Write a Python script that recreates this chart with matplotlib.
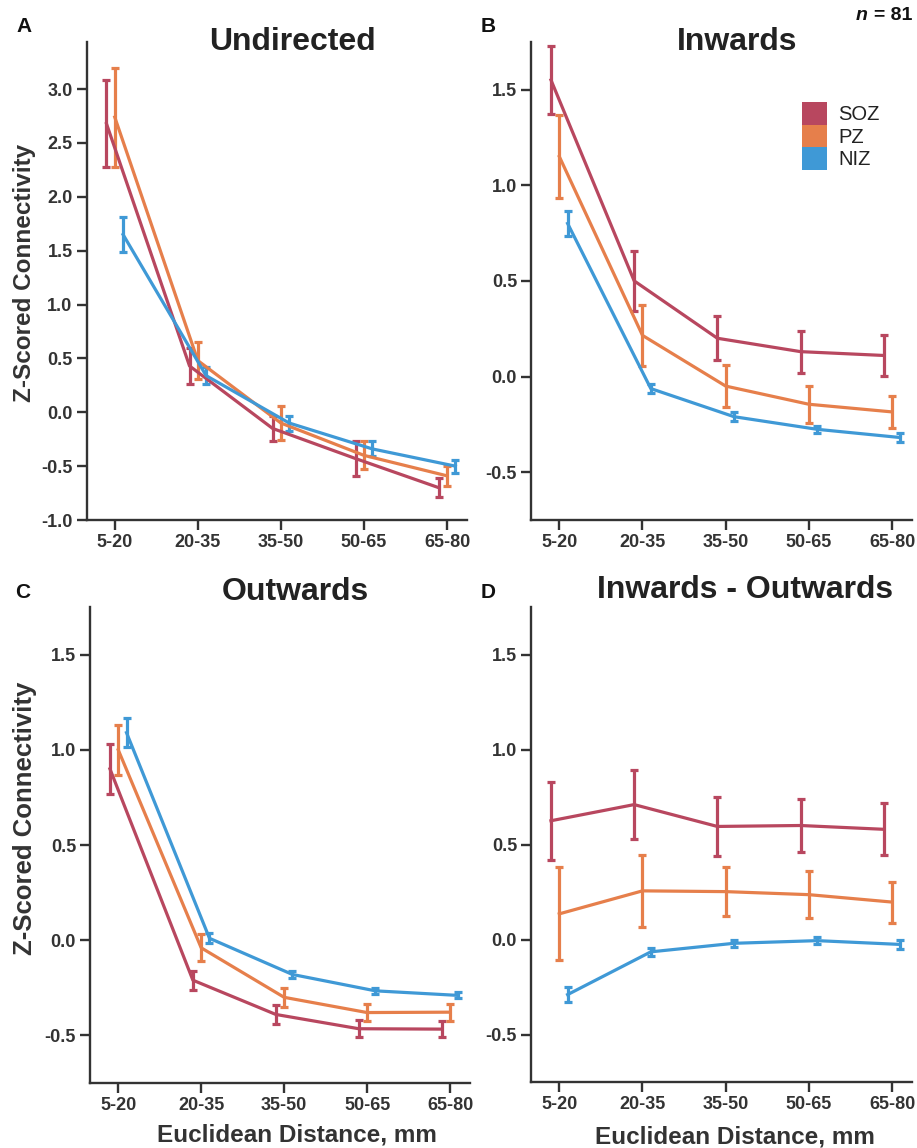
import matplotlib
matplotlib.use('Agg')
import matplotlib.pyplot as plt
from matplotlib.patches import Patch
import numpy as np

plt.rcParams['font.family'] = ['Liberation Sans', 'DejaVu Sans']
plt.rcParams['axes.unicode_minus'] = False

# Data
categories = ['5-20', '20-35', '35-50', '50-65', '65-80']
groups = ['SOZ', 'PZ', 'NIZ']

undirected_soz = [2.68, 0.43, -0.15, -0.43, -0.70]
undirected_soz_sem = [0.40, 0.17, 0.12, 0.16, 0.09]
undirected_pz = [2.74, 0.48, -0.10, -0.40, -0.59]
undirected_pz_sem = [0.46, 0.17, 0.16, 0.13, 0.09]
undirected_niz = [1.65, 0.34, -0.10, -0.34, -0.50]
undirected_niz_sem = [0.16, 0.08, 0.07, 0.07, 0.06]

inwards_soz = [1.55, 0.50, 0.20, 0.13, 0.11]
inwards_soz_sem = [0.18, 0.155, 0.115, 0.11, 0.105]
inwards_pz = [1.15, 0.215, -0.05, -0.145, -0.185]
inwards_pz_sem = [0.215, 0.16, 0.108, 0.097, 0.085]
inwards_niz = [0.80, -0.063, -0.21, -0.276, -0.319]
inwards_niz_sem = [0.065, 0.024, 0.025, 0.018, 0.023]

outwards_soz = [0.90, -0.21, -0.39, -0.465, -0.467]
outwards_soz_sem = [0.13, 0.05, 0.05, 0.045, 0.043]
outwards_pz = [1.00, -0.04, -0.30, -0.38, -0.378]
outwards_pz_sem = [0.13, 0.07, 0.05, 0.045, 0.045]
outwards_niz = [1.09, 0.01, -0.18, -0.266, -0.29]
outwards_niz_sem = [0.075, 0.026, 0.018, 0.015, 0.016]

diff_soz = [0.625, 0.71, 0.595, 0.60, 0.58]
diff_soz_sem = [0.205, 0.18, 0.153, 0.14, 0.136]
diff_pz = [0.135, 0.256, 0.252, 0.236, 0.197]
diff_pz_sem = [0.245, 0.19, 0.13, 0.125, 0.108]
diff_niz = [-0.29, -0.065, -0.02, -0.006, -0.026]
diff_niz_sem = [0.04, 0.022, 0.02, 0.02, 0.024]

colors = {'SOZ': '#b8475f', 'PZ': '#e67f4b', 'NIZ': '#3f99d6'}
offsets = {'SOZ': -0.1, 'PZ': 0.0, 'NIZ': 0.1}
dark = '#333333'

W, H = 917, 1148
fig = plt.figure(figsize=(W / 100, H / 100), dpi=100)


def px_axes(left, top, right, bottom):
    return fig.add_axes([left / W, 1 - bottom / H, (right - left) / W, (bottom - top) / H])


def panel(ax, series, ylim, yticks):
    x = np.arange(len(categories))
    for g in groups:
        mean, sem = series[g]
        ax.errorbar(x + offsets[g], mean, yerr=sem, color=colors[g], lw=2.3,
                    elinewidth=2.3, capsize=3, capthick=2.3)
    ax.set_xlim(-0.34, 4.24)
    ax.set_ylim(*ylim)
    ax.set_xticks(x)
    ax.set_xticklabels(categories)
    ax.set_yticks(yticks)
    ax.set_yticklabels(['%.1f' % t for t in yticks])
    for s in ['top', 'right']:
        ax.spines[s].set_visible(False)
    for s in ['left', 'bottom']:
        ax.spines[s].set_color(dark)
        ax.spines[s].set_linewidth(1.7)
    ax.tick_params(axis='both', colors=dark, width=1.7, length=7, pad=3,
                   labelsize=13)
    for lbl in ax.get_xticklabels() + ax.get_yticklabels():
        lbl.set_fontweight('bold')
        lbl.set_color(dark)


ax_a = px_axes(86.5, 41.7, 467, 520)
ax_b = px_axes(531, 41.7, 912, 520)
ax_c = px_axes(90, 607, 470, 1083)
ax_d = px_axes(531, 607, 912, 1082)

yt_a = np.arange(-1.0, 3.01, 0.5)
yt_o = np.arange(-0.5, 1.51, 0.5)

panel(ax_a, {'SOZ': (undirected_soz, undirected_soz_sem),
             'PZ': (undirected_pz, undirected_pz_sem),
             'NIZ': (undirected_niz, undirected_niz_sem)}, (-1.0, 3.44), yt_a)
panel(ax_b, {'SOZ': (inwards_soz, inwards_soz_sem),
             'PZ': (inwards_pz, inwards_pz_sem),
             'NIZ': (inwards_niz, inwards_niz_sem)}, (-0.75, 1.75), yt_o)
panel(ax_c, {'SOZ': (outwards_soz, outwards_soz_sem),
             'PZ': (outwards_pz, outwards_pz_sem),
             'NIZ': (outwards_niz, outwards_niz_sem)}, (-0.75, 1.75), yt_o)
panel(ax_d, {'SOZ': (diff_soz, diff_soz_sem),
             'PZ': (diff_pz, diff_pz_sem),
             'NIZ': (diff_niz, diff_niz_sem)}, (-0.75, 1.75), yt_o)


def ftext(x, y, s, **kw):
    fig.text(x / W, 1 - y / H, s, **kw)


# titles
ftext(292, 42, 'Undirected', ha='center', va='center', fontsize=23, fontweight='bold', color='#222222')
ftext(737, 42, 'Inwards', ha='center', va='center', fontsize=23, fontweight='bold', color='#222222')
ftext(295, 592, 'Outwards', ha='center', va='center', fontsize=23, fontweight='bold', color='#222222')
ftext(745, 590, 'Inwards - Outwards', ha='center', va='center', fontsize=23, fontweight='bold', color='#222222')

# panel letters
for letter, (x, y) in zip('ABCD', [(24, 27), (488, 27), (23, 592), (488, 592)]):
    ftext(x, y, letter, ha='center', va='center', fontsize=15, fontweight='bold', color='#111111')

# n = 81
ftext(912, 15, '= 81', ha='right', va='center', fontsize=14, fontweight='bold', color='#111111')
ftext(868, 15, 'n', ha='right', va='center', fontsize=14, fontweight='bold',
      style='italic', color='#111111')

# axis labels
ftext(25, 273, 'Z-Scored Connectivity', ha='center', va='center', rotation=90,
      fontsize=17.5, fontweight='bold', color=dark)
ftext(25, 818, 'Z-Scored Connectivity', ha='center', va='center', rotation=90,
      fontsize=18.5, fontweight='bold', color=dark)
ftext(297, 1135, 'Euclidean Distance, mm', ha='center', va='center',
      fontsize=17.5, fontweight='bold', color=dark)
ftext(735, 1137, 'Euclidean Distance, mm', ha='center', va='center',
      fontsize=17.5, fontweight='bold', color=dark)

# legend
handles = [Patch(facecolor=colors[g], edgecolor='none', label=g) for g in groups]
ax_b.legend(handles=handles, loc='upper left', bbox_to_anchor=(802 / W, 1 - 102 / H),
            bbox_transform=fig.transFigure, frameon=False, fontsize=14.5,
            handlelength=1.25, handleheight=1.35, handletextpad=0.55,
            labelspacing=0.0, borderpad=0, borderaxespad=0, labelcolor='#222222')

fig.savefig('out.png', dpi=100, facecolor='white')
